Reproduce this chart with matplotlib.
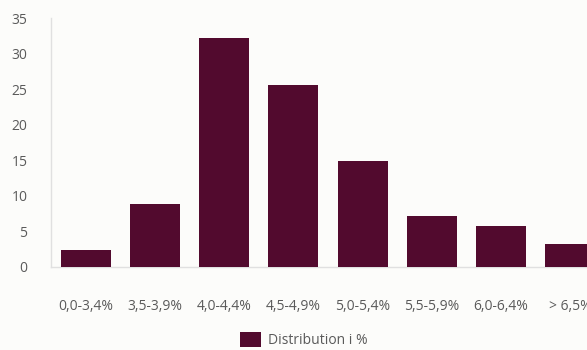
import matplotlib
matplotlib.use("Agg")
import matplotlib.pyplot as plt
from matplotlib.patches import Patch

categories = ["0,0-3,4%", "3,5-3,9%", "4,0-4,4%", "4,5-4,9%",
              "5,0-5,4%", "5,5-5,9%", "6,0-6,4%", "> 6,5%"]
values = [2.4, 8.9, 32.2, 25.6, 14.9, 7.1, 5.7, 3.2]
y_ticks = [0, 5, 10, 15, 20, 25, 30, 35]
series_name = "Distribution i %"

bar_color = "#520a2e"
text_color = "#5a5a5a"
bg = "#fcfcfa"

plt.rcParams["font.family"] = ["Open Sans", "DejaVu Sans"]

fig = plt.figure(figsize=(5.87, 3.5), dpi=100, facecolor=bg)
ax = fig.add_axes([51 / 587, 1 - 267 / 350, 554 / 587, 249 / 350])
ax.set_facecolor(bg)

x = list(range(len(categories)))
ax.bar(x, values, width=0.72, color=bar_color, zorder=3)

ax.set_xlim(-0.5, len(categories) - 0.5)
ax.set_ylim(0, 35)
ax.set_yticks(y_ticks)
ax.set_xticks(x)
ax.set_xticklabels(categories)

for s in ["top", "right"]:
    ax.spines[s].set_visible(False)
for s in ["left", "bottom"]:
    ax.spines[s].set_color("#e0e0e0")
    ax.spines[s].set_linewidth(1.0)

ax.tick_params(axis="both", length=0, labelsize=10, colors=text_color)
ax.tick_params(axis="y", pad=17)
ax.tick_params(axis="x", pad=23)

handles = [Patch(facecolor=bar_color, edgecolor="none", label=series_name)]
fig.legend(handles=handles, loc="lower center", bbox_to_anchor=(0.518, -0.03),
           frameon=False, fontsize=10, labelcolor=text_color,
           handlelength=1.45, handleheight=1.3, handletextpad=0.55)

fig.savefig("out.png", dpi=100, facecolor=bg)
